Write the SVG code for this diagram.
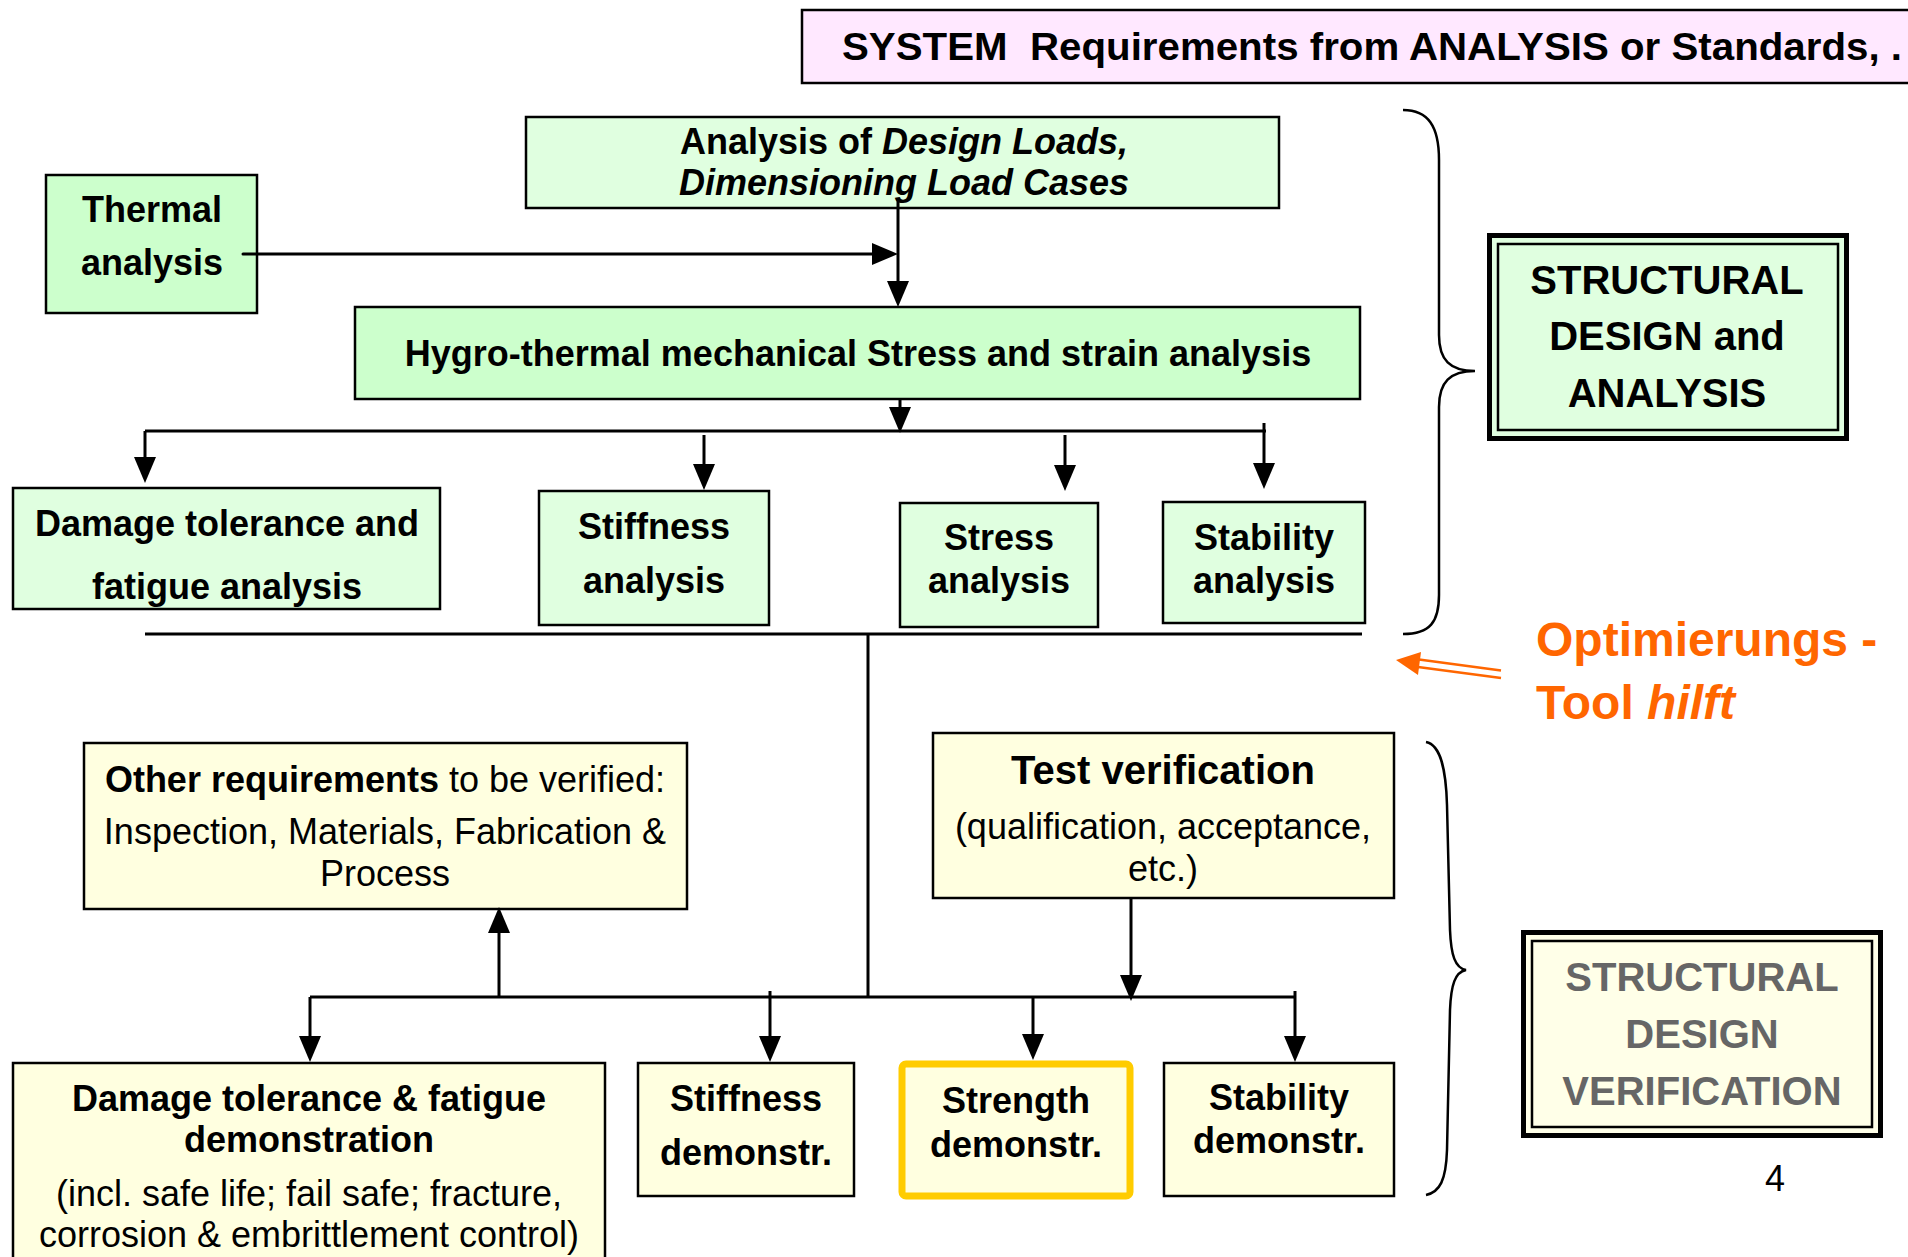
<svg xmlns="http://www.w3.org/2000/svg" width="1908" height="1257" viewBox="0 0 1908 1257">
<style>
.t{font-family:"Liberation Sans",Arial,sans-serif;font-size:36px;text-anchor:middle;fill:#000}
.b{font-weight:bold}
.i{font-style:italic}
.n{font-weight:normal}
.box{stroke:#000;stroke-width:2.5}
.g1{fill:#CCFFCC}
.g2{fill:#E0FFE0}
.y{fill:#FFFFE0}
.ln{fill:none;stroke:#000;stroke-width:3}
.arr{marker-end:url(#ah)}
.big{font-size:40px}
.gray{fill:#666666}
.or{fill:#FF6600}
</style>
<defs>
<marker id="ah" markerUnits="userSpaceOnUse" markerWidth="26" markerHeight="22" viewBox="0 0 26 22" refX="16" refY="11" orient="auto">
<path d="M0,0 L26,11 L0,22 z" fill="#000"/>
</marker>
</defs>
<rect width="1908" height="1257" fill="#fff"/>

<g id="system-req">
<rect class="box" x="802" y="10" width="1130" height="73" fill="#FFE8FF"/>
<text class="t b" x="842" y="60" style="text-anchor:start;font-size:39px" textLength="1060" lengthAdjust="spacingAndGlyphs">SYSTEM&#160; Requirements from ANALYSIS or Standards, .</text>
</g>

<g id="design-loads">
<rect class="box g2" x="526" y="117" width="753" height="91"/>
<text class="t b" x="904" y="154">Analysis of <tspan class="i">Design Loads,</tspan></text>
<text class="t b i" x="904" y="195">Dimensioning Load Cases</text>
</g>

<g id="thermal">
<rect class="box g1" x="46" y="175" width="211" height="138"/>
<text class="t b" x="152" y="222">Thermal</text>
<text class="t b" x="152" y="275">analysis</text>
</g>

<g id="hygro">
<rect class="box g1" x="355" y="307" width="1005" height="92"/>
<text class="t b" x="858" y="366">Hygro-thermal mechanical Stress and strain analysis</text>
</g>

<g id="damage-analysis">
<rect class="box g2" x="13" y="488" width="427" height="121"/>
<text class="t b" x="227" y="536">Damage tolerance and</text>
<text class="t b" x="227" y="599">fatigue analysis</text>
</g>

<g id="stiffness-analysis">
<rect class="box g2" x="539" y="491" width="230" height="134"/>
<text class="t b" x="654" y="539">Stiffness</text>
<text class="t b" x="654" y="593">analysis</text>
</g>

<g id="stress-analysis">
<rect class="box g2" x="900" y="503" width="198" height="124"/>
<text class="t b" x="999" y="550">Stress</text>
<text class="t b" x="999" y="593">analysis</text>
</g>

<g id="stability-analysis">
<rect class="box g2" x="1163" y="502" width="202" height="121"/>
<text class="t b" x="1264" y="550">Stability</text>
<text class="t b" x="1264" y="593">analysis</text>
</g>

<g id="structural-design-analysis">
<rect x="1489.5" y="235.5" width="357" height="203" fill="#E0FFE0" stroke="#000" stroke-width="5"/>
<rect x="1498" y="244" width="340" height="186" fill="none" stroke="#000" stroke-width="2.5"/>
<text class="t b big" x="1667" y="294">STRUCTURAL</text>
<text class="t b big" x="1667" y="350">DESIGN and</text>
<text class="t b big" x="1667" y="407">ANALYSIS</text>
</g>

<g id="optimierung">
<line x1="1501" y1="670.5" x2="1419" y2="659.5" stroke="#FF6600" stroke-width="2.5"/>
<line x1="1501" y1="678" x2="1418" y2="667" stroke="#FF6600" stroke-width="2.5"/>
<polygon points="1396,660 1421,652 1418,675" fill="#FF6600"/>
<text class="t b or" x="1536" y="656" style="text-anchor:start;font-size:48px">Optimierungs -</text>
<text class="t b or" x="1536" y="719" style="text-anchor:start;font-size:48px">Tool <tspan class="i">hilft</tspan></text>
</g>

<g id="other-requirements">
<rect class="box y" x="84" y="743" width="603" height="166"/>
<text class="t" x="385" y="792"><tspan class="b">Other requirements</tspan> to be verified:</text>
<text class="t" x="385" y="844">Inspection, Materials, Fabrication &amp;</text>
<text class="t" x="385" y="886">Process</text>
</g>

<g id="test-verification">
<rect class="box y" x="933" y="733" width="461" height="165"/>
<text class="t b" x="1163" y="784" style="font-size:40px">Test verification</text>
<text class="t" x="1163" y="839">(qualification, acceptance,</text>
<text class="t" x="1163" y="881">etc.)</text>
</g>

<g id="damage-demo">
<rect class="box y" x="13" y="1063" width="592" height="210"/>
<text class="t b" x="309" y="1111">Damage tolerance &amp; fatigue</text>
<text class="t b" x="309" y="1152">demonstration</text>
<text class="t" x="309" y="1206">(incl. safe life; fail safe; fracture,</text>
<text class="t" x="309" y="1247">corrosion &amp; embrittlement control)</text>
</g>

<g id="stiffness-demo">
<rect class="box y" x="638" y="1063" width="216" height="133"/>
<text class="t b" x="746" y="1111">Stiffness</text>
<text class="t b" x="746" y="1165">demonstr.</text>
</g>

<g id="strength-demo">
<rect x="902" y="1064" width="228" height="132" rx="4" fill="#FFFFE0" stroke="#FFCC00" stroke-width="7"/>
<text class="t b" x="1016" y="1113">Strength</text>
<text class="t b" x="1016" y="1157">demonstr.</text>
</g>

<g id="stability-demo">
<rect class="box y" x="1164" y="1063" width="230" height="133"/>
<text class="t b" x="1279" y="1110">Stability</text>
<text class="t b" x="1279" y="1153">demonstr.</text>
</g>

<g id="structural-design-verification">
<rect x="1523.5" y="932.5" width="357" height="203" fill="#FFFFE8" stroke="#000" stroke-width="5"/>
<rect x="1532" y="941" width="340" height="186" fill="none" stroke="#000" stroke-width="2.5"/>
<text class="t b big gray" x="1702" y="991">STRUCTURAL</text>
<text class="t b big gray" x="1702" y="1048">DESIGN</text>
<text class="t b big gray" x="1702" y="1105">VERIFICATION</text>
</g>

<g id="page-number">
<text class="t" x="1775" y="1191" style="font-size:36px">4</text>
</g>

<g id="braces" fill="none" stroke="#000" stroke-width="2.5">
<path d="M1403,110 C1428,110 1439,126 1439,160 L1439,335 C1439,360 1450,371 1475,371 C1450,371 1439,382 1439,407 L1439,595 C1439,622 1430,634 1403,634"/>
<path d="M1426,742 C1441,745 1446,770 1447,805 L1450,930 C1451,955 1455,968 1466,970 C1455,972 1451,985 1450,1010 L1447,1150 C1446,1180 1440,1192 1426,1195"/>
</g>

<g id="connectors">
<path class="ln arr" d="M898,200 V297"/>
<path class="ln arr" d="M243,254 H888" stroke-width="6" stroke-linecap="round"/>
<path class="ln arr" d="M900,399 V423"/>
<path class="ln" d="M145,431 H1266"/>
<path class="ln arr" d="M145,431 V473"/>
<path class="ln arr" d="M704,435 V480"/>
<path class="ln arr" d="M1065,435 V481"/>
<path class="ln arr" d="M1264,423 V479"/>
<path class="ln" d="M145,634 H1362" stroke-width="2.5"/>
<path class="ln" d="M868,634 V997" stroke-width="2.5"/>
<path class="ln" d="M310,997 H1296"/>
<path class="ln arr" d="M310,997 V1052"/>
<path class="ln arr" d="M770,991 V1052"/>
<path class="ln arr" d="M1033,997 V1050"/>
<path class="ln arr" d="M1295,991 V1052"/>
<path class="ln arr" d="M499,997 V917"/>
<path class="ln arr" d="M1131,898 V991"/>
</g>
</svg>
